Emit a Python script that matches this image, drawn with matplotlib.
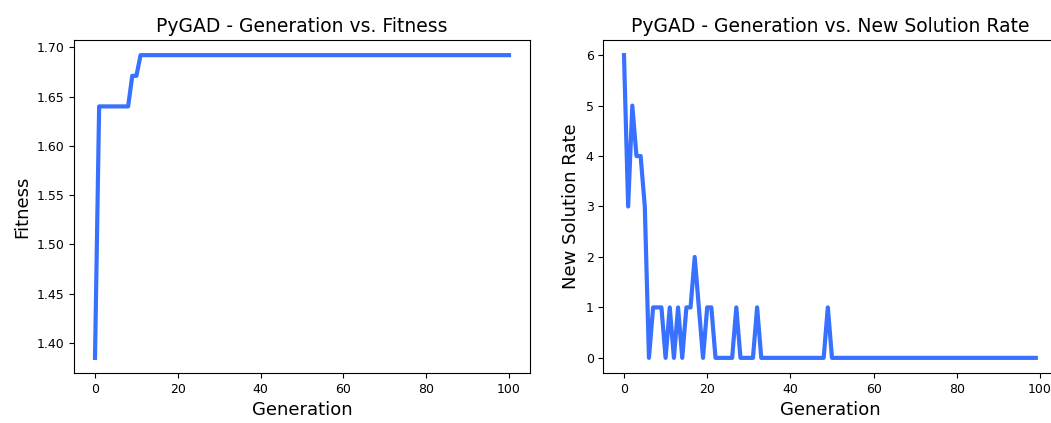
import matplotlib

matplotlib.use("Agg")
import matplotlib.pyplot as plt

# fitness per generation (0..100)
fitness_generations = list(range(101))
fitness_values = [1.385] + [1.640] * 8 + [1.671] * 2 + [1.692] * 90

# new solution rate per generation (0..99)
rate_generations = list(range(100))
rate_values = [6, 3, 5, 4, 4, 3, 0, 1, 1, 1,
               0, 1, 0, 1, 0, 1, 1, 2, 1, 0,
               1, 1, 0, 0, 0, 0, 0, 1, 0, 0,
               0, 0, 1, 0, 0, 0, 0, 0, 0, 0,
               0, 0, 0, 0, 0, 0, 0, 0, 0, 1] + [0] * 50

LINE_COLOR = "#3870FF"

fig = plt.figure(figsize=(10.51, 4.23), dpi=100)
W, H = 1051.0, 423.0

ax1 = fig.add_axes([74.3 / W, (H - 373) / H, 455.4 / W, 333 / H])
ax1.plot(fitness_generations, fitness_values, linewidth=3, color=LINE_COLOR)
ax1.set_title("PyGAD - Generation vs. Fitness", fontsize=13.5)
ax1.set_xlabel("Generation", fontsize=13)
ax1.set_ylabel("Fitness", fontsize=13)
ax1.tick_params(labelsize=9)

ax2 = fig.add_axes([603.4 / W, (H - 373) / H, 453 / W, 333 / H])
ax2.plot(rate_generations, rate_values, linewidth=3, color=LINE_COLOR)
ax2.set_title("PyGAD - Generation vs. New Solution Rate", fontsize=13.5)
ax2.set_xlabel("Generation", fontsize=13)
ax2.set_ylabel("New Solution Rate", fontsize=13)
ax2.tick_params(labelsize=9)

fig.savefig("out.png", dpi=100)
